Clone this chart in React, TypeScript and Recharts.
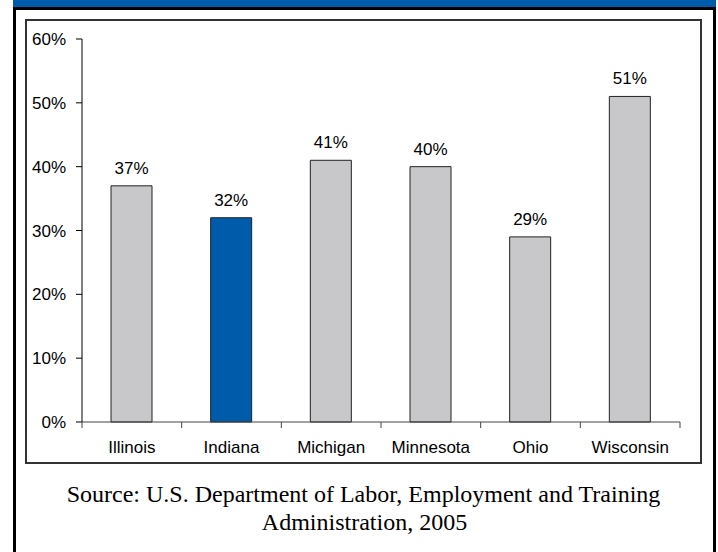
import { BarChart, Bar, XAxis, YAxis, Cell, LabelList } from "recharts";

const states = ["Illinois", "Indiana", "Michigan", "Minnesota", "Ohio", "Wisconsin"];
const shares = [37, 32, 41, 40, 29, 51];
const yTicks = [0, 10, 20, 30, 40, 50, 60];
const sourceLines = [
  "Source: U.S. Department of Labor, Employment and Training",
  "Administration, 2005",
];
const highlighted = "Indiana";

const data = states.map((state, i) => ({ state, share: shares[i] }));

const BLUE = "#005BAA";
const GREY = "#C8C8CB";
const SANS = "'Liberation Sans', Arial, sans-serif";
const SERIF = "'Liberation Serif', 'Times New Roman', serif";

function StateTick(props: any) {
  const { x, y, payload, index } = props;
  const half = payload && payload.offset ? payload.offset : 49.8;
  return (
    <g>
      {index === 0 && <line x1={x - half} x2={x - half} y1={y} y2={y + 6} stroke="#444" />}
      <line x1={x + half} x2={x + half} y1={y} y2={y + 6} stroke="#444" />
      <text x={x} y={y + 31} textAnchor="middle" fontSize={17} fontFamily={SANS} fill="#000">
        {payload.value}
      </text>
    </g>
  );
}

export default function App() {
  return (
    <div style={{ position: "absolute", left: 0, top: 0, width: 718, height: 552, overflow: "hidden", background: "#fff" }}>
      <div style={{ position: "absolute", left: 13, top: 0, width: 703, height: 8, background: BLUE }} />
      <div
        style={{
          position: "absolute",
          left: 13,
          top: 7,
          width: 703,
          height: 600,
          border: "3px solid #000",
          boxSizing: "border-box",
        }}
      />
      <div
        style={{
          position: "absolute",
          left: 25,
          top: 19,
          width: 677,
          height: 445,
          border: "2px solid #333",
          boxSizing: "border-box",
        }}
      />
      <div style={{ position: "absolute", left: 25, top: 19 }}>
        <BarChart width={677} height={445} data={data} margin={{ top: 20, right: 22, bottom: 0, left: 0 }}>
          <XAxis
            dataKey="state"
            height={42}
            interval={0}
            tickLine={false}
            tickSize={0}
            tickMargin={0}
            axisLine={{ stroke: "#444" }}
            tick={<StateTick />}
          />
          <XAxis
            xAxisId="top"
            dataKey="state"
            orientation="top"
            height={0}
            tick={false}
            tickLine={false}
            axisLine={{ stroke: "#999" }}
          />
          <YAxis
            width={57}
            domain={[0, 60]}
            ticks={yTicks}
            interval={0}
            tickFormatter={(v: number) => `${v}%`}
            tickSize={6}
            tickMargin={10}
            tick={{ fontSize: 17, fill: "#000", fontFamily: SANS }}
            axisLine={{ stroke: "#000" }}
            tickLine={{ stroke: "#000" }}
          />
          <YAxis
            yAxisId="right"
            orientation="right"
            width={0}
            domain={[0, 60]}
            tick={false}
            tickLine={false}
            axisLine={{ stroke: "#999" }}
          />
          <Bar dataKey="share" barSize={41} stroke="#222" strokeWidth={1} isAnimationActive={false}>
            {data.map((d) => (
              <Cell key={d.state} fill={d.state === highlighted ? BLUE : GREY} />
            ))}
            <LabelList
              dataKey="share"
              position="top"
              offset={12}
              formatter={(v: any) => `${v}%`}
              fill="#000"
              fontSize={17}
              fontFamily={SANS}
            />
          </Bar>
        </BarChart>
      </div>
      <svg width={718} height={552} style={{ position: "absolute", left: 0, top: 0, pointerEvents: "none" }}>
        <text x={363.5} y={501.5} textAnchor="middle" fontSize={24} fontFamily={SERIF} fill="#000">
          {sourceLines[0]}
        </text>
        <text x={364.5} y={530} textAnchor="middle" fontSize={24} fontFamily={SERIF} fill="#000">
          {sourceLines[1]}
        </text>
      </svg>
    </div>
  );
}
